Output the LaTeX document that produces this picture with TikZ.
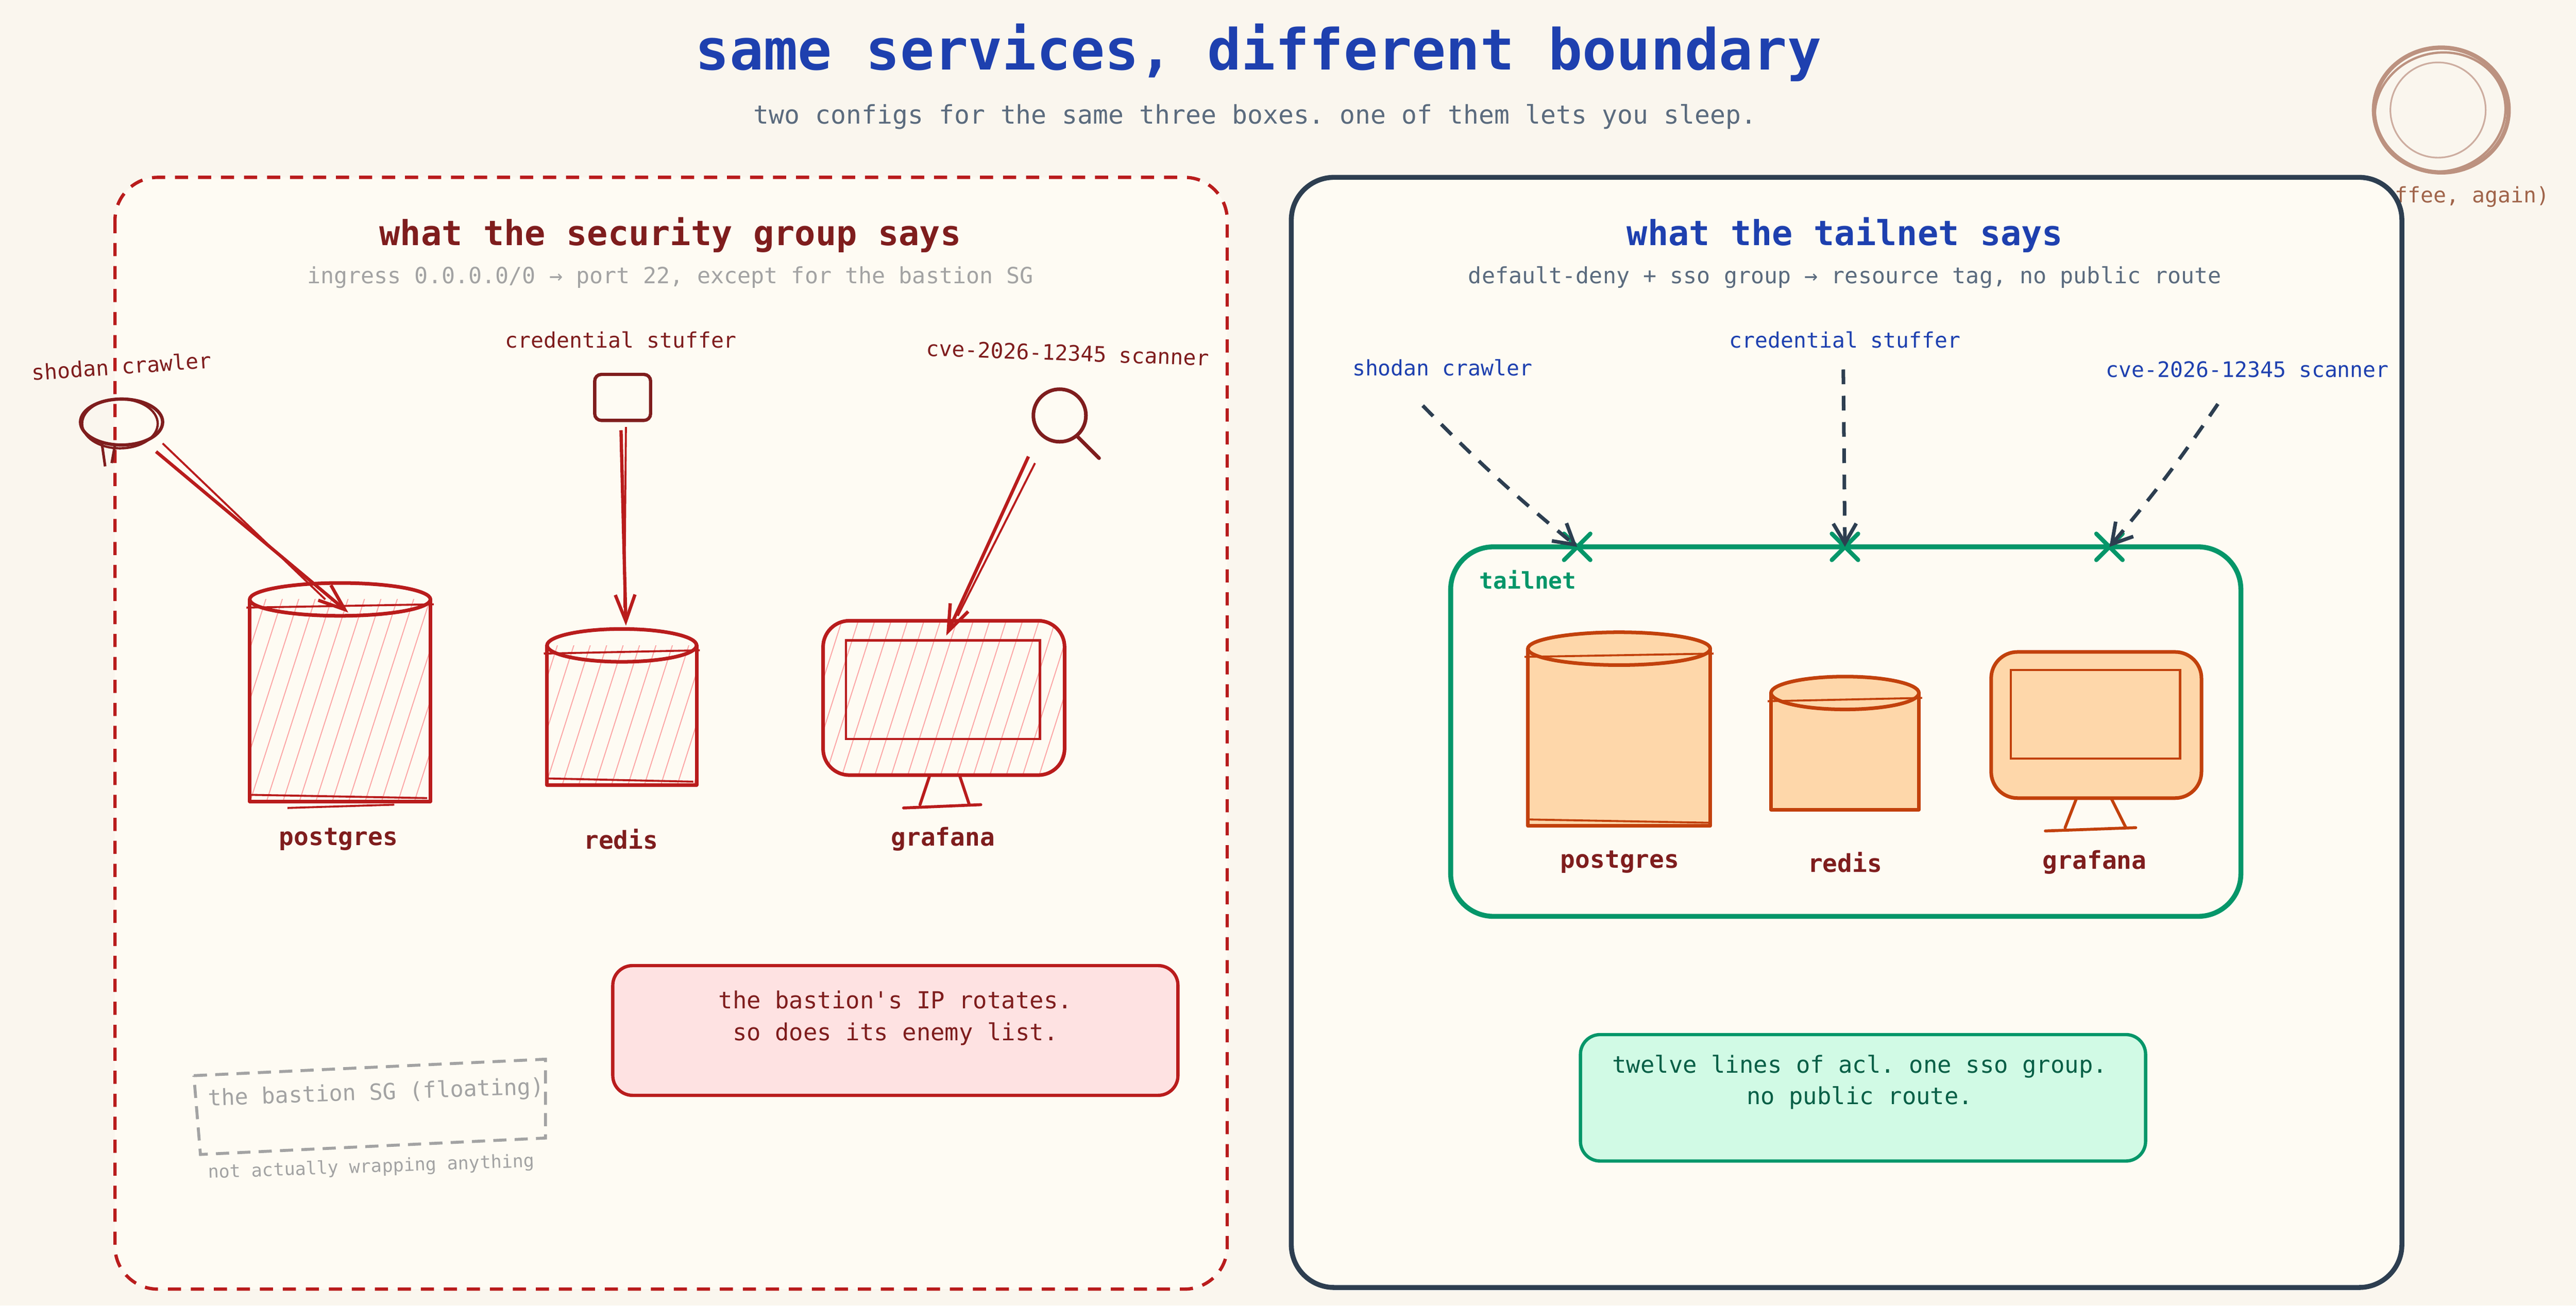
\documentclass[tikz,border=0pt]{standalone}
\usepackage{fontspec}
\setmonofont{DejaVu Sans Mono}
\usetikzlibrary{arrows.meta,calc}
\definecolor{bg}{HTML}{FAF6EE}
\definecolor{panel}{HTML}{FEFBF3}
\definecolor{rd}{HTML}{B91C1C}
\definecolor{drd}{HTML}{7F1D1D}
\definecolor{navy}{HTML}{2D3E50}
\definecolor{blu}{HTML}{1E40AF}
\definecolor{slate}{HTML}{5B6B7E}
\definecolor{grn}{HTML}{059669}
\definecolor{dgrn}{HTML}{065F46}
\definecolor{mint}{HTML}{D1FAE5}
\definecolor{org}{HTML}{C2410C}
\definecolor{orgf}{HTML}{FED7AA}
\definecolor{pink}{HTML}{FCA5A5}
\definecolor{pinkf}{HTML}{FEE2E2}
\definecolor{gry}{HTML}{A3A3A3}
\definecolor{cof}{HTML}{BC9280}
\definecolor{coft}{HTML}{A0644A}
\newcommand\fs[1]{\fontsize{#1}{#1}\selectfont\ttfamily}
\begin{document}
\begin{tikzpicture}[x=1pt,y=-1pt,
  every node/.style={inner sep=0pt},
  rline/.style={draw=rd,line width=2.2pt,line join=round,line cap=round},
  oline/.style={draw=org,line width=2.2pt,line join=round,line cap=round,fill=orgf},
  hatch/.style={draw=pink,line width=0.6pt},
  lab/.style={font=\fs{13}},
  svc/.style={font=\fs{15}\bfseries,text=drd},
  rarrow/.style={draw=rd,line width=2pt,-{Straight Barb[length=16pt,width=12pt,line width=2pt]}},
  rshadow/.style={draw=rd,line width=1.2pt},
  narrow/.style={draw=navy,line width=2.2pt,dash pattern=on 9pt off 7pt,-{Straight Barb[length=12pt,width=14pt,line width=2.2pt]}},
  xmark/.style={draw=grn,line width=2.6pt,line cap=round},
]
\fill[bg] (0,0) rectangle (1568,795);
\useasboundingbox (0,0) rectangle (1568,795);
% title
\node[font=\fs{34.5}\bfseries,text=blu] (title) at (766,32) {same services, different boundary};
\node[font=\fs{15.6},text=slate] (sub) at (764,71) {two configs for the same three boxes. one of them lets you sleep.};
% coffee
\node[font=\fs{13},text=coft] (coffeet) at (1493,120) {(coffee, again)};
\draw[cof,line width=2.6pt] (1486,67) ellipse [x radius=41pt,y radius=38pt];
\draw[cof,line width=1.4pt,rotate around={15:(1486,67)}] (1485,68) ellipse [x radius=40pt,y radius=36pt];
\draw[cof!75,line width=1pt] (1484,67) ellipse [x radius=29pt,y radius=29pt];
\node (coffee) at (1486,67) {};
% panels
\draw[rd,line width=2pt,dash pattern=on 8pt off 6pt,fill=panel,rounded corners=26pt] (70,108) rectangle (747,785);
\draw[navy,line width=3pt,fill=panel,rounded corners=26pt] (786,108) rectangle (1462,784);
% ---------- left
\node[font=\fs{21}\bfseries,text=drd] (lt) at (408,143) {what the security group says};
\node[font=\fs{13.6},text=gry] (ls) at (408,169) {ingress 0.0.0.0/0 → port 22, except for the bastion SG};
\node[lab,text=drd,rotate=4] (l1) at (74,223) {shodan crawler};
\node[lab,text=drd] (l2) at (378,207) {credential stuffer};
\node[lab,text=drd,rotate=-2] (l3) at (650,215) {cve-2026-12345 scanner};
% icons
\draw[draw=drd,line width=2pt] (74,257) ellipse [x radius=25pt,y radius=14pt];
\draw[draw=drd,line width=1.4pt] (73,258) ellipse [x radius=23pt,y radius=15pt];
\draw[draw=drd,line width=1.6pt] (62,270) -- (64,284) (70,271) -- (68,282);
\node (i1) at (74,257) {};
\draw[draw=drd,line width=2pt,rounded corners=4pt] (362,228) rectangle (396,256);
\node (i2) at (379,242) {};
\draw[draw=drd,line width=2.2pt] (645,253) circle [radius=16pt];
\draw[draw=drd,line width=2.2pt,line cap=round] (656,266) -- (669,279);
\node (i3) at (645,253) {};
% postgres cylinder
\begin{scope}
\clip (152,365) rectangle (262,488);
\foreach \i in {-60,-50,...,280} \draw[hatch] (\i,495) -- ++(45,-140);
\end{scope}
\draw[rline] (152,365) -- (152,488) -- (262,488) -- (262,365);
\draw[rline] (207,365) ellipse [x radius=55pt,y radius=10pt];
\draw[rd,line width=1.2pt] (150,370) -- (264,368) (152,484)--(260,486) (175,492)--(240,490);
\node (pg) at (207,420) {};
\node[svc] (pgl) at (206,511) {postgres};
% redis
\begin{scope}
\clip (333,393) rectangle (424,478);
\foreach \i in {260,270,...,460} \draw[hatch] (\i,485) -- ++(35,-110);
\end{scope}
\draw[rline] (333,393) -- (333,478) -- (424,478) -- (424,393);
\draw[rline] (378.5,393) ellipse [x radius=45.5pt,y radius=10pt];
\draw[rd,line width=1.2pt] (331,398) -- (426,396) (332,474)--(422,476);
\node (rd) at (378,430) {};
\node[svc] (rdl) at (378,511) {redis};
% grafana
\begin{scope}
\clip[rounded corners=16pt] (501,378) rectangle (648,472);
\foreach \i in {420,430,...,680} \draw[hatch] (\i,480) -- ++(35,-110);
\end{scope}
\draw[rline,rounded corners=16pt] (501,378) rectangle (648,472);
\draw[rd,line width=1.4pt] (515,390) rectangle (633,450);
\draw[rline,line width=1.8pt] (566,472) -- (560,490) (584,472) -- (590,490) (550,492) -- (597,490);
\node (gf) at (574,420) {};
\node[svc] (gfl) at (574,511) {grafana};
% attack arrows
\coordinate (a1) at (212,373);
\coordinate (a2) at (381,381);
\coordinate (a3) at (576,387);
\coordinate (b1) at (95,275);
\coordinate (b2) at (378,262);
\coordinate (b3) at (626,278);
\draw[rarrow] (b1) -- (a1);
\draw[rshadow] (99,270) -- (198,365);
\draw[rarrow] (b2) -- (a2);
\draw[rshadow] (381,260) -- (380,370);
\draw[rarrow] (b3) -- (a3);
\draw[rshadow] (630,282) -- (583,375);
% note
\draw[rd,line width=2pt,fill=pinkf,rounded corners=12pt] (373,588) rectangle (717,667);
\node[font=\fs{14.3},text=drd,align=center] (n1) at (545,620) {the bastion's IP rotates.\\[5pt]so does its enemy list.};
% bastion
\draw[gry,line width=1.8pt,dash pattern=on 8pt off 5pt] (118,655) -- (332,645) -- (332,693) -- (122,703) -- cycle;
\node[font=\fs{13.6},text=gry,rotate=2] (bs) at (229,666) {the bastion SG (floating)};
\node[font=\fs{11},text=gry,rotate=2] (bs2) at (226,711) {not actually wrapping anything};
% ---------- right
\node[font=\fs{21}\bfseries,text=blu] (rt) at (1123,143) {what the tailnet says};
\node[font=\fs{13.6},text=slate] (rs) at (1123,169) {default-deny + sso group → resource tag, no public route};
\node[lab,text=blu] (r1) at (878,224) {shodan crawler};
\node[lab,text=blu] (r2) at (1123,207) {credential stuffer};
\node[lab,text=blu] (r3) at (1368,225) {cve-2026-12345 scanner};
\draw[grn,line width=3pt,rounded corners=26pt] (883,333) rectangle (1364,558);
\node[font=\fs{14}\bfseries,text=grn] (tn) at (930,353) {tailnet};
\coordinate (x1) at (960,333);
\coordinate (x2) at (1123,333);
\coordinate (x3) at (1284,333);
\foreach \c in {x1,x2,x3} \draw[xmark] ($(\c)+(-8,-8)$) -- ($(\c)+(8,8)$) ($(\c)+(-8,8)$) -- ($(\c)+(8,-8)$);
\coordinate (s1) at (866,247);
\coordinate (s2) at (1122,225);
\coordinate (s3) at (1350,246);
\draw[narrow] (s1) to[bend right=3] (x1);
\draw[narrow] (s2) -- (x2);
\draw[narrow] (s3) to[bend left=3] (x3);
% orange postgres
\draw[oline] (930,395) -- (930,503) -- (1041,503) -- (1041,395);
\draw[oline] (985.5,395) ellipse [x radius=55.5pt,y radius=10pt];
\draw[org,line width=1.2pt] (928,400) -- (1043,398) (930,499)--(1040,501);
\node (opg) at (986,450) {};
\node[svc] (opgl) at (986,525) {postgres};
% orange redis
\draw[oline] (1078,422) -- (1078,493) -- (1168,493) -- (1168,422);
\draw[oline] (1123,422) ellipse [x radius=45pt,y radius=10pt];
\draw[org,line width=1.2pt] (1076,427) -- (1170,425);
\node (ord) at (1123,460) {};
\node[svc] (ordl) at (1123,525) {redis};
% orange grafana
\draw[oline,rounded corners=16pt] (1212,397) rectangle (1340,486);
\draw[org,line width=1.4pt] (1224,408) rectangle (1327,462);
\draw[org,line width=1.8pt,line cap=round] (1264,486) -- (1257,504) (1285,486) -- (1294,504) (1245,506) -- (1300,504);
\node (ogf) at (1276,440) {};
\node[svc] (ogfl) at (1275,525) {grafana};
% green note
\draw[grn,line width=2pt,fill=mint,rounded corners=12pt] (962,630) rectangle (1306,707);
\node[font=\fs{14.3},text=dgrn,align=center] (n2) at (1132,659) {twelve lines of acl. one sso group.\\[5pt]no public route.};
\end{tikzpicture}
\end{document}
